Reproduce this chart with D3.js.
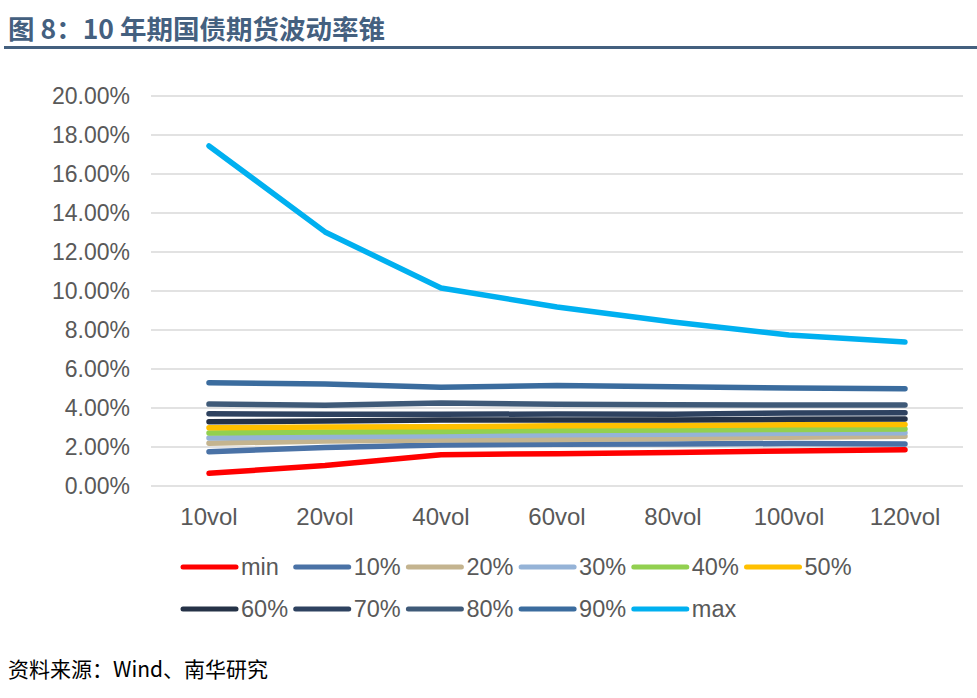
<!DOCTYPE html>
<html>
<head>
<meta charset="utf-8">
<script src="https://cdn.jsdelivr.net/npm/d3@7"></script>
<style>
    body { margin: 0; background: #fff; }
    svg { display: block; }
</style>
</head>
<body>
<div id="chart"></div>
<script>
// categories (x axis)
const categories = ["10vol", "20vol", "40vol", "60vol", "80vol", "100vol", "120vol"];

// series values, in %
const minVals = [0.65, 1.05, 1.60, 1.66, 1.72, 1.80, 1.86];
const p10 = [1.76, 1.98, 2.10, 2.14, 2.15, 2.18, 2.15];
const p20 = [2.19, 2.31, 2.36, 2.39, 2.43, 2.50, 2.55];
const p30 = [2.46, 2.53, 2.58, 2.63, 2.65, 2.70, 2.73];
const p40 = [2.72, 2.77, 2.80, 2.85, 2.87, 2.90, 2.92];
const p50 = [2.99, 3.03, 3.04, 3.09, 3.10, 3.14, 3.16];
const p60 = [3.30, 3.33, 3.38, 3.38, 3.38, 3.42, 3.44];
const p70 = [3.71, 3.68, 3.68, 3.69, 3.68, 3.74, 3.76];
const p80 = [4.20, 4.14, 4.26, 4.19, 4.17, 4.15, 4.15];
const p90 = [5.30, 5.23, 5.07, 5.15, 5.09, 5.02, 4.99];
const maxVals = [17.44, 13.03, 10.15, 9.18, 8.41, 7.74, 7.38];

const seriesNames = ["min", "10%", "20%", "30%", "40%", "50%", "60%", "70%", "80%", "90%", "max"];
const seriesColors = ["#ff0000", "#4a72a6", "#c4b48f", "#95b3d7", "#92d050", "#ffc000",
    "#253247", "#2e4260", "#3f5a78", "#3b6c9e", "#00b0f0"];

// y ticks
const yTicks = [0, 2, 4, 6, 8, 10, 12, 14, 16, 18, 20];

const series = [minVals, p10, p20, p30, p40, p50, p60, p70, p80, p90, maxVals]
    .map((vals, i) => ({ name: seriesNames[i], color: seriesColors[i], values: vals }));

const width = 977, height = 698;
const plot = { left: 151, right: 963, top: 96, bottom: 486 };
const labelFont = "'Liberation Sans', Arial, sans-serif";

const svg = d3.select("#chart")
    .append("svg")
    .attr("width", width)
    .attr("height", height);

svg.append("rect").attr("width", width).attr("height", height).attr("fill", "#fff");

// title + rule
svg.append("text")
    .attr("x", 8)
    .attr("y", 39)
    .style("font-family", "'Noto Sans CJK SC', 'Liberation Sans', sans-serif")
    .style("font-weight", "bold")
    .style("font-size", "26.5px")
    .attr("fill", "#44607f")
    .text("图 8：10 年期国债期货波动率锥");

svg.append("line")
    .attr("x1", 4).attr("x2", width)
    .attr("y1", 47.5).attr("y2", 47.5)
    .attr("stroke", "#44607f")
    .attr("stroke-width", 3);

// scales
const x = d3.scaleBand()
    .domain(categories)
    .range([plot.left, plot.right]);

const y = d3.scaleLinear()
    .domain([0, 20])
    .range([plot.bottom, plot.top]);

// gridlines
svg.append("g")
    .selectAll("line")
    .data(yTicks)
    .enter().append("line")
    .attr("x1", plot.left).attr("x2", plot.right)
    .attr("y1", d => y(d)).attr("y2", d => y(d))
    .attr("stroke", "#d9d9d9")
    .attr("stroke-width", 1.5);

// y axis labels
const yAxis = svg.append("g")
    .attr("transform", `translate(${plot.left - 21},0)`)
    .call(d3.axisLeft(y).tickValues(yTicks).tickSize(0).tickPadding(0)
        .tickFormat(d => d.toFixed(2) + "%"));
yAxis.select(".domain").remove();
yAxis.selectAll("text")
    .style("font-family", labelFont)
    .style("font-size", "23px")
    .attr("fill", "#595959");

// x axis labels
const xAxis = svg.append("g")
    .attr("transform", `translate(0,${plot.bottom + 22})`)
    .call(d3.axisBottom(x).tickSize(0).tickPadding(0));
xAxis.select(".domain").remove();
xAxis.selectAll("text")
    .style("font-family", labelFont)
    .style("font-size", "24px")
    .attr("fill", "#595959");

// lines
const line = d3.line()
    .x((d, i) => x(categories[i]) + x.bandwidth() / 2)
    .y(d => y(d));

svg.append("g")
    .selectAll("path")
    .data(series)
    .enter().append("path")
    .attr("d", d => line(d.values))
    .attr("fill", "none")
    .attr("stroke", d => d.color)
    .attr("stroke-width", 5.5)
    .attr("stroke-linecap", "round")
    .attr("stroke-linejoin", "round");

// legend, 6 per row
const legend = svg.append("g");
const perRow = 6, pitch = 112.7;
series.forEach((s, i) => {
    const row = Math.floor(i / perRow), col = i % perRow;
    const lx = 183 + col * pitch, ly = 567 + row * 42;
    const item = legend.append("g").attr("transform", `translate(${lx},${ly})`);
    item.append("line")
        .attr("x1", 0).attr("x2", 53)
        .attr("stroke", s.color)
        .attr("stroke-width", 5)
        .attr("stroke-linecap", "round");
    item.append("text")
        .attr("x", 58)
        .attr("dy", "0.36em")
        .style("font-family", labelFont)
        .style("font-size", "23.5px")
        .attr("fill", "#595959")
        .text(s.name);
});

// source note
svg.append("text")
    .attr("x", 8)
    .attr("y", 677)
    .style("font-family", "'Noto Sans CJK SC', 'Liberation Sans', sans-serif")
    .style("font-size", "21px")
    .attr("fill", "#000")
    .text("资料来源：Wind、南华研究");
</script>
</body>
</html>
